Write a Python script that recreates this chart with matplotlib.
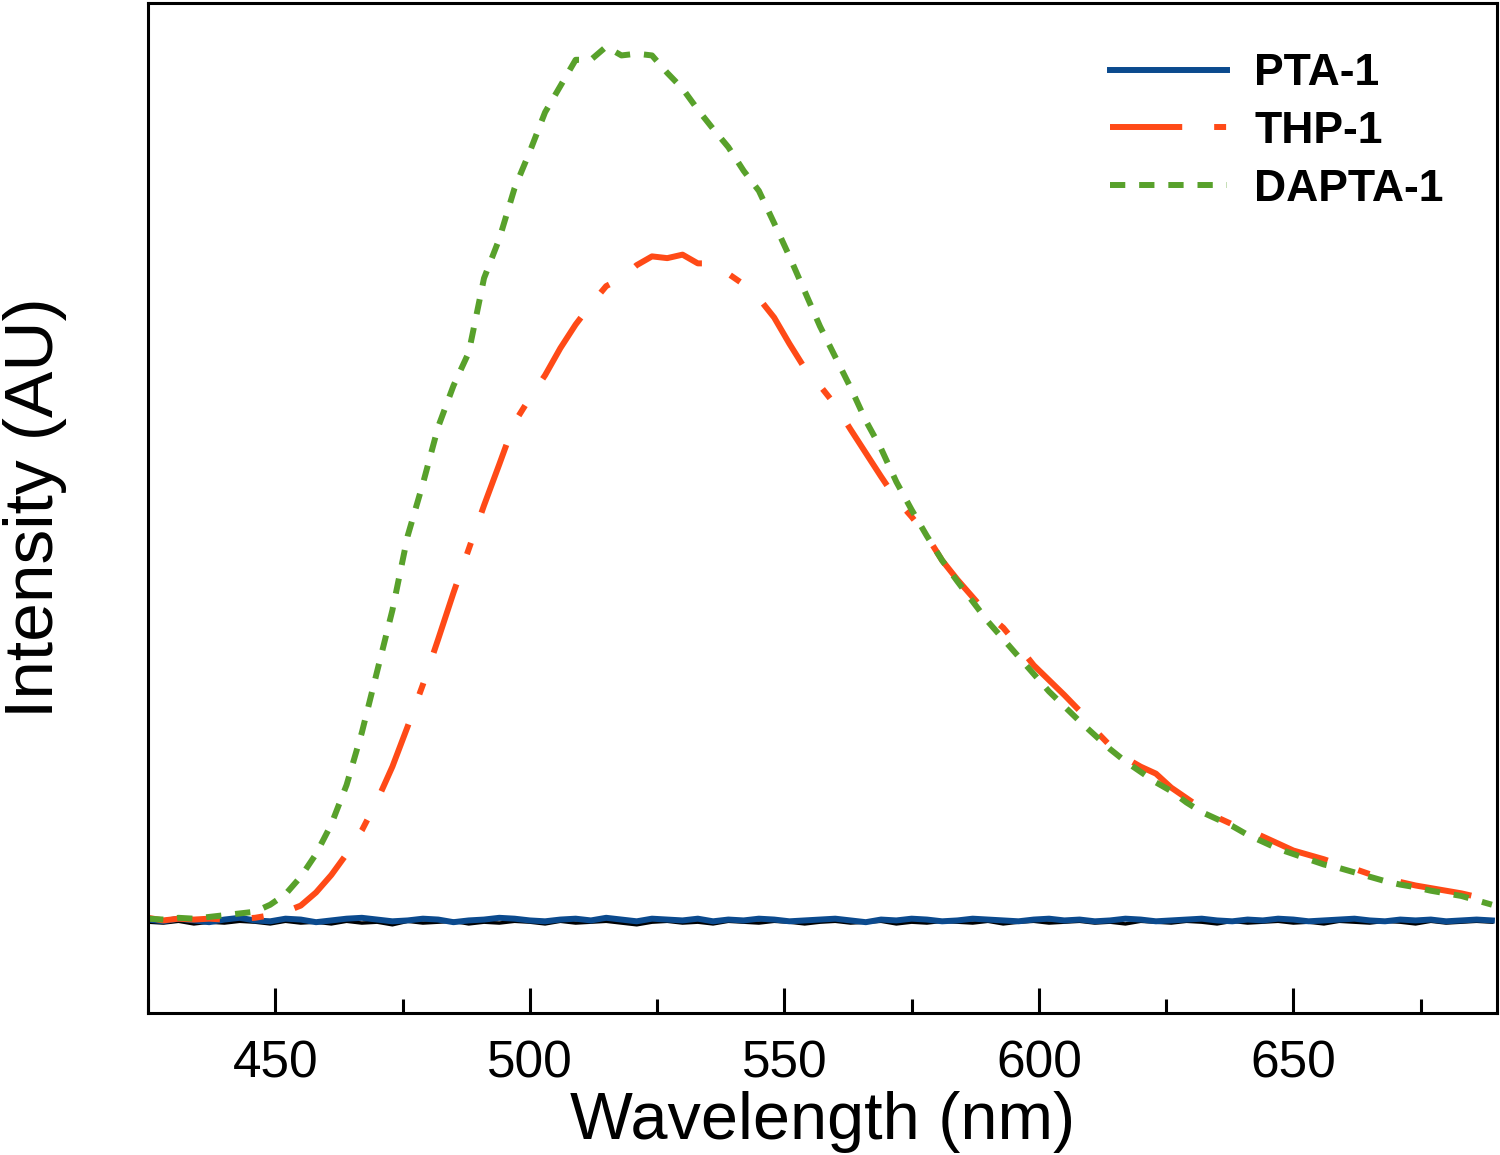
import matplotlib
matplotlib.use("Agg")
import matplotlib.pyplot as plt
from matplotlib.ticker import MultipleLocator

plt.rcParams["font.family"] = ["Liberation Sans", "DejaVu Sans"]
plt.rcParams["lines.scale_dashes"] = False

# wavelength grid (nm)
wl = [425, 428, 431, 434, 437, 440, 443, 446, 449, 452, 455, 458, 461, 464, 467,
      470, 473, 476, 479, 482, 485, 488, 491, 494, 497, 500, 503, 506, 509, 512,
      515, 518, 521, 524, 527, 530, 533, 536, 539, 542, 545, 548, 551, 554, 557,
      560, 563, 566, 569, 572, 575, 578, 581, 584, 587, 590, 593, 596, 599, 602,
      605, 608, 611, 614, 617, 620, 623, 626, 629, 632, 635, 638, 641, 644, 647,
      650, 653, 656, 659, 662, 665, 668, 671, 674, 677, 680, 683, 686, 689]

dapta = [2, 1, 3, 2, 4, 6, 8, 10, 18, 30, 50, 76, 110, 155, 215,
         285, 355, 440, 500, 565, 612, 650, 735, 780, 838, 880, 925, 955, 985, 985,
         1000, 990, 992, 990, 970, 952, 928, 906, 885, 858, 835, 798, 760, 720, 680,
         645, 610, 572, 540, 502, 470, 440, 412, 388, 365, 342, 322, 302, 282, 262,
         245, 228, 212, 196, 182, 170, 158, 148, 135, 124, 116, 108, 98, 90, 82,
         76, 70, 64, 60, 55, 50, 45, 41, 38, 34, 31, 28, 23, 18]

thp = [3, 0, 2, 1, 2, 1, 2, 3, 6, 10, 17, 32, 52, 76, 103,
       137, 176, 222, 270, 322, 375, 425, 475, 522, 570, 598, 624, 655, 682, 705,
       726, 735, 750, 760, 758, 762, 752, 752, 740, 728, 712, 690, 660, 632, 612,
       590, 562, 535, 508, 482, 462, 440, 412, 390, 370, 350, 335, 314, 292, 275,
       258, 240, 218, 200, 186, 176, 168, 152, 140, 128, 118, 110, 104, 96, 88,
       80, 75, 70, 64, 59, 53, 48, 44, 40, 37, 34, 31, 27, 23]

pta = [1, -1, 2, 0, -2, 1, 3, 0, -1, 2, 1, -2, 0, 2, 3,
       1, -1, 0, 2, 1, -2, 0, 1, 3, 2, 0, -1, 1, 2, 0,
       3, 1, -1, 2, 1, 0, 2, -1, 1, 0, 2, 1, -1, 0, 1,
       2, 0, -2, 1, 0, 2, 1, -1, 0, 2, 1, 0, -1, 1, 2,
       0, 1, -1, 0, 2, 1, -1, 0, 1, 2, 0, -1, 1, 0, 2,
       1, -1, 0, 1, 2, 0, -1, 1, 0, 1, -1, 0, 1, 0]

blank = [-2, -3, -1, -4, -2, -3, -1, -2, -4, -1, -3, -2, -4, -1, -3,
         -2, -5, -1, -3, -2, -1, -4, -2, -3, -1, -2, -4, -1, -3, -2,
         -1, -3, -5, -2, -1, -3, -2, -4, -1, -2, -3, -1, -2, -4, -2,
         -1, -3, -2, -1, -4, -2, -3, -1, -2, -3, -1, -4, -2, -1, -3,
         -2, -1, -3, -2, -4, -1, -2, -3, -1, -2, -4, -1, -3, -2, -1,
         -3, -2, -4, -1, -2, -3, -1, -2, -4, -1, -3, -2, -1, -2]

fig = plt.figure(figsize=(15, 11.55), dpi=100)
ax = fig.add_axes([0.0987, 0.1229, 0.8993, 0.8745])

ax.plot(wl, blank, color="black", lw=2.5)
ax.plot(wl, pta, color="#0b4a8e", lw=4.3, label="PTA-1")
ax.plot(wl, thp, color="#ff4a17", lw=4.3, label="THP-1", dashes=(52, 23, 8.6, 23))
ax.plot(wl, dapta, color="#58a12b", lw=4.3, label="DAPTA-1", dashes=(11, 10))

ax.set_xlim(425, 690)
ax.set_ylim(-106, 1050)
ax.set_yticks([])
ax.xaxis.set_major_locator(MultipleLocator(50))
ax.xaxis.set_minor_locator(MultipleLocator(25))
ax.tick_params(axis="x", which="major", direction="in", length=18, width=2.2,
               labelsize=37, pad=19)
ax.tick_params(axis="x", which="minor", direction="in", length=10, width=2.2)
for s in ax.spines.values():
    s.set_linewidth(2.2)

ax.set_xlabel("Wavelength (nm)", fontsize=48, labelpad=2)
ax.set_ylabel("Intensity (AU)", fontsize=50, labelpad=58)

leg = ax.legend(loc="upper right", frameon=False, handlelength=2.65,
                handletextpad=0.6, labelspacing=0.38,
                bbox_to_anchor=(0.99, 0.99), prop={"size": 32, "weight": "bold"})

fig.savefig("out.png", dpi=100)
